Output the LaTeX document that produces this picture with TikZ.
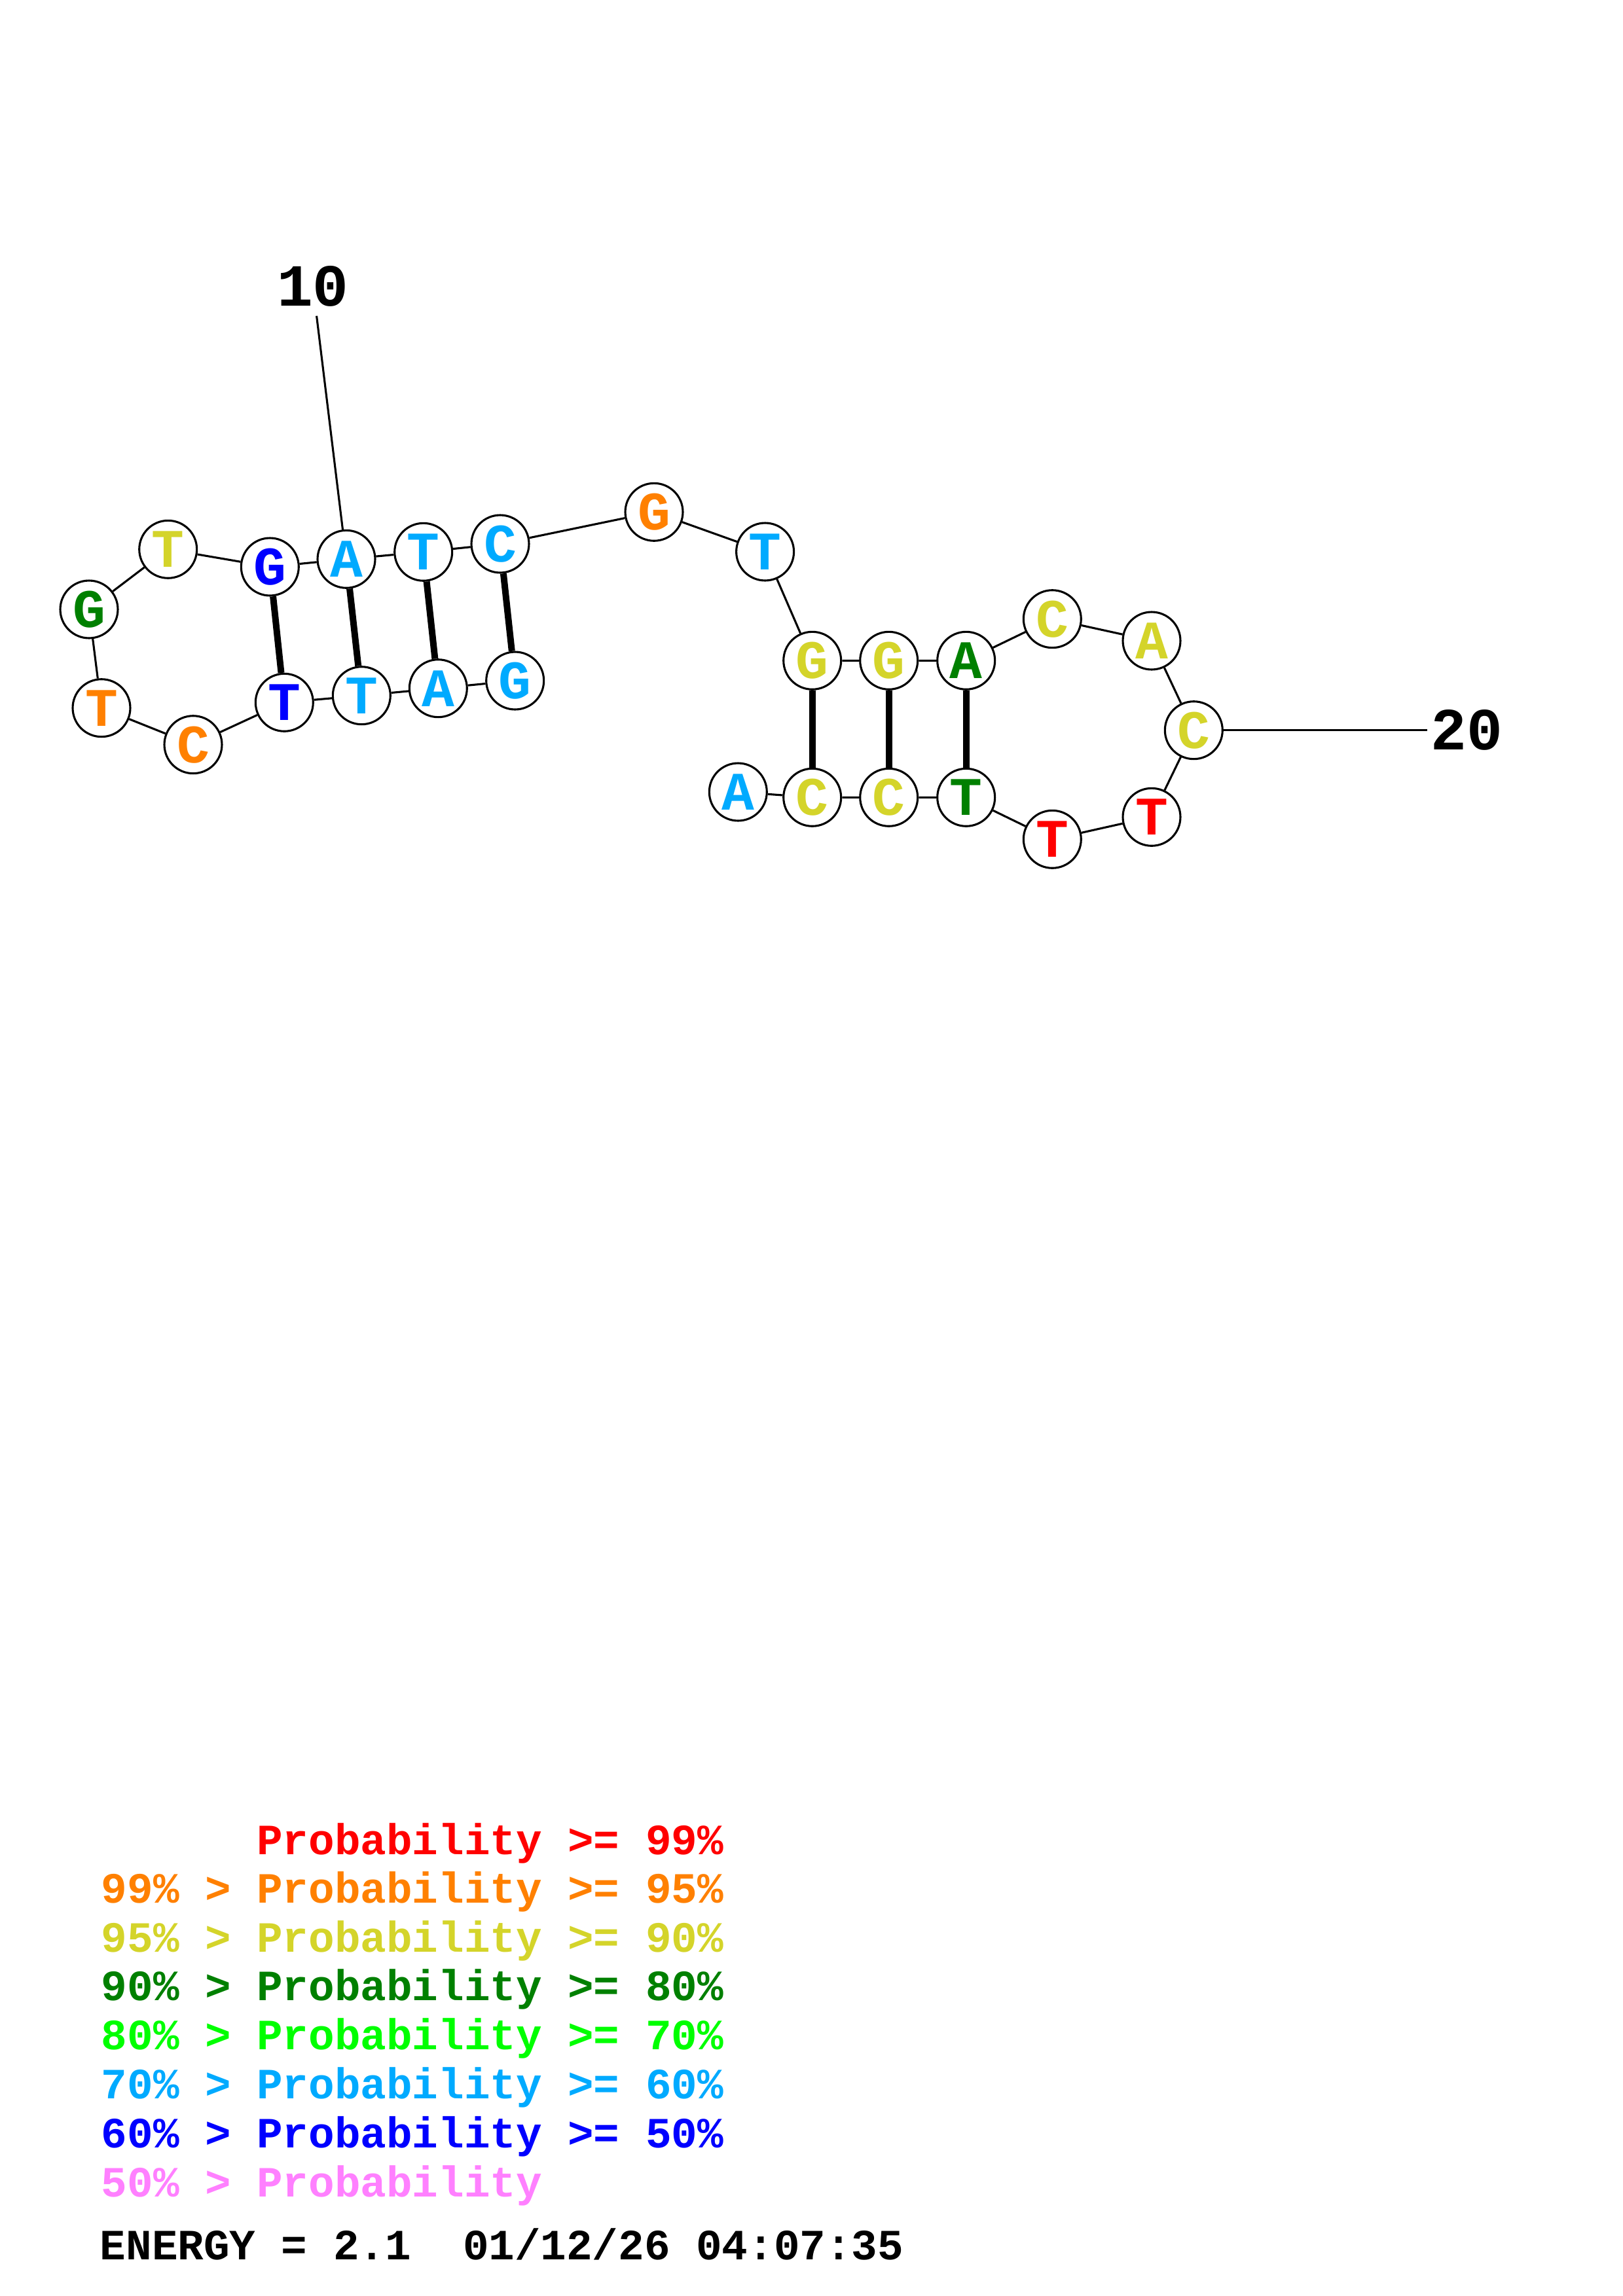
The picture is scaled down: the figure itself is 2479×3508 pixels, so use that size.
\documentclass[tikz,border=0pt]{standalone}
\usepackage{fontspec}
\newfontfamily\cour{Liberation Mono}
\definecolor{rojo}{HTML}{FF0000}
\definecolor{naranja}{HTML}{FF8000}
\definecolor{amarillo}{HTML}{D4D42A}
\definecolor{verdeosc}{HTML}{008000}
\definecolor{verde}{HTML}{00FF00}
\definecolor{celeste}{HTML}{00AAFF}
\definecolor{azul}{HTML}{0000FF}
\definecolor{rosa}{HTML}{FF80FF}
\begin{document}
\begin{tikzpicture}[x=0.0847mm,y=-0.0847mm,
  nt/.style={draw,circle,fill=white,line width=0.75pt,minimum size=7.45mm,inner sep=0pt,font=\cour\bfseries\fontsize{20}{20}\selectfont},
  bb/.style={line width=0.75pt},
  pr/.style={line width=2.4pt},
  num/.style={font=\cour\bfseries\fontsize{22}{22}\selectfont},
  leg/.style={anchor=base west,inner sep=0pt,font=\cour\bfseries\fontsize{15.9}{15.9}\selectfont}]
\useasboundingbox (0,0) rectangle (2479,3508);
% bases
\node[nt,text=celeste] (b1) at (786.7,1040) {G};
\node[nt,text=celeste] (b2) at (669.3,1051.7) {A};
\node[nt,text=celeste] (b3) at (552.3,1062.7) {T};
\node[nt,text=azul] (b4) at (434.3,1073.3) {T};
\node[nt,text=naranja] (b5) at (295,1137.7) {C};
\node[nt,text=naranja] (b6) at (155,1081.7) {T};
\node[nt,text=verdeosc] (b7) at (136,931) {G};
\node[nt,text=amarillo] (b8) at (256.7,839.3) {T};
\node[nt,text=azul] (b9) at (412.3,866) {G};
\node[nt,text=celeste] (b10) at (529,854.3) {A};
\node[nt,text=celeste] (b11) at (646.7,843.3) {T};
\node[nt,text=celeste] (b12) at (764,831) {C};
\node[nt,text=naranja] (b13) at (999,782.3) {G};
\node[nt,text=celeste] (b14) at (1168.6,843) {T};
\node[nt,text=amarillo] (b15) at (1240.7,1009.3) {G};
\node[nt,text=amarillo] (b16) at (1357.7,1009.3) {G};
\node[nt,text=verdeosc] (b17) at (1475.7,1009.3) {A};
\node[nt,text=amarillo] (b18) at (1607.3,945.7) {C};
\node[nt,text=amarillo] (b19) at (1759,979) {A};
\node[nt,text=amarillo] (b20) at (1823.3,1115.7) {C};
\node[nt,text=rojo] (b21) at (1759,1248.3) {T};
\node[nt,text=rojo] (b22) at (1607.3,1282.3) {T};
\node[nt,text=verdeosc] (b23) at (1475.7,1218.3) {T};
\node[nt,text=amarillo] (b24) at (1357.7,1218.3) {C};
\node[nt,text=amarillo] (b25) at (1240.7,1218.3) {C};
\node[nt,text=celeste] (b26) at (1127.3,1210) {A};
% backbone
\draw[bb] (b1)--(b2)--(b3)--(b4)--(b5)--(b6)--(b7)--(b8)--(b9)--(b10)--(b11)--(b12)--(b13)
  --(b14)--(b15)--(b16)--(b17)--(b18)--(b19)--(b20)--(b21)--(b22)--(b23)--(b24)--(b25)--(b26);
% pairs
\draw[pr] (b9)--(b4); \draw[pr] (b10)--(b3); \draw[pr] (b11)--(b2); \draw[pr] (b12)--(b1);
\draw[pr] (b15)--(b25); \draw[pr] (b16)--(b24); \draw[pr] (b17)--(b23);
% numbers
\node[num] (l10) at (478,437) {10};
\node[num,inner sep=1pt] (l20) at (2240,1115.7) {20};
\draw[bb] (b10)--(l10); \draw[bb] (b20)--(l20);
% legend
\node[leg,text=rojo] (g1) at (154,2833) {\phantom{99\% > }Probability >= 99\%};
\node[leg,text=naranja] (g2) at (154,2907.3) {99\% > Probability >= 95\%};
\node[leg,text=amarillo] (g3) at (154,2982.3) {95\% > Probability >= 90\%};
\node[leg,text=verdeosc] (g4) at (154,3056.9) {90\% > Probability >= 80\%};
\node[leg,text=verde] (g5) at (154,3131.9) {80\% > Probability >= 70\%};
\node[leg,text=celeste] (g6) at (154,3206.4) {70\% > Probability >= 60\%};
\node[leg,text=azul] (g7) at (154,3281.4) {60\% > Probability >= 50\%};
\node[leg,text=rosa] (g8) at (154,3356) {50\% > Probability};
\node[leg] (en) at (152,3452) {ENERGY = 2.1\ \ 01/12/26 04:07:35};
\end{tikzpicture}
\end{document}
